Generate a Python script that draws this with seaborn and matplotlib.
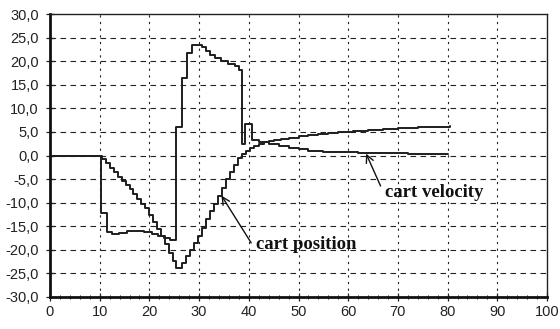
import matplotlib
matplotlib.use("Agg")
import matplotlib.pyplot as plt
import seaborn as sns
import pandas as pd
from matplotlib.ticker import MultipleLocator

# ---- data (step series, value holds until next x) ----
pos_x = [0, 10.4, 11.2, 12.0, 12.8, 13.6, 14.4, 15.2, 16.0, 16.8, 17.6, 18.4, 19.2,
         20.0, 20.8, 21.6, 22.4, 23.2, 24.0, 24.8, 25.4, 26.6, 27.4, 28.2, 29.0,
         29.8, 30.6, 31.4, 32.2, 33.0, 33.8, 34.6, 35.4, 36.2, 37.0, 37.8, 38.6,
         39.4, 40.2, 41.0, 42.0, 43.0, 44.0, 45.0, 46.5, 48.0, 50.0, 52.0, 54.0,
         56.0, 58.0, 61.0, 64.0, 67.0, 70.0, 74.0, 77.0, 80.5]
pos_y = [0, -0.8, -1.6, -2.6, -3.6, -4.6, -5.4, -6.2, -7.2, -8.2, -9.2, -10.2, -11.2,
         -12.6, -14.0, -15.5, -17.0, -18.8, -20.6, -22.4, -23.8, -22.7, -21.3, -20.0, -18.5,
         -17.0, -15.3, -13.5, -11.7, -10.2, -8.6, -6.8, -5.0, -3.5, -2.0, -0.6, 0.4,
         1.0, 1.6, 2.1, 2.5, 2.8, 3.0, 3.2, 3.5, 3.8, 4.1, 4.4, 4.6,
         4.8, 5.0, 5.2, 5.4, 5.6, 5.8, 6.0, 6.1, 6.2]

vel_x = [0, 10.2, 11.4, 12.4, 13.8, 15.4, 19.0, 20.6, 21.8, 23.0, 24.2, 25.4, 26.5,
         27.6, 28.6, 30.6, 31.4, 32.2, 33.2, 34.4, 35.8, 37.2, 38.0, 38.7, 39.3,
         40.7, 42.0, 44.0, 46.0, 48.0, 50.0, 52.0, 55.0, 58.0, 62.0, 67.0, 72.0, 80.0]
vel_y = [0, -12.1, -16.2, -16.7, -16.4, -16.0, -16.2, -16.6, -17.0, -17.4, -17.9, 6.0, 16.5,
         21.8, 23.5, 23.0, 22.2, 21.4, 20.6, 20.0, 19.5, 18.9, 18.2, 2.5, 6.7,
         3.3, 2.8, 2.4, 2.0, 1.6, 1.3, 1.0, 0.8, 0.7, 0.6, 0.5, 0.4, 0.4]

x_ticks = [0, 10, 20, 30, 40, 50, 60, 70, 80, 90, 100]
y_ticks = [-30, -25, -20, -15, -10, -5, 0, 5, 10, 15, 20, 25, 30]
y_tick_labels = ["-30,0", "-25,0", "-20,0", "-15,0", "-10,0", "-5,0", "0,0",
                 "5,0", "10,0", "15,0", "20,0", "25,0", "30,0"]

labels = ["cart velocity", "cart position"]

# ---- figure ----
sns.set_theme(style="white")
plt.rcParams["font.family"] = ["Liberation Sans", "DejaVu Sans"]

fig = plt.figure(figsize=(5.6, 3.29), dpi=100)
ax = fig.add_axes([50 / 560, 1 - 297 / 329, 497 / 560, 283 / 329])

line_color = "#1e1e1e"
df_pos = pd.DataFrame({"t": pos_x, "v": pos_y})
df_vel = pd.DataFrame({"t": vel_x, "v": vel_y})
sns.lineplot(data=df_vel, x="t", y="v", ax=ax, color=line_color, lw=1.4,
             drawstyle="steps-post", estimator=None, sort=False)
sns.lineplot(data=df_pos, x="t", y="v", ax=ax, color=line_color, lw=1.4,
             drawstyle="steps-post", estimator=None, sort=False)

ax.set_xlim(0, 100)
ax.set_ylim(-30, 30)
ax.set_xticks(x_ticks)
ax.set_xticklabels([str(v) for v in x_ticks])
ax.set_yticks(y_ticks)
ax.set_yticklabels(y_tick_labels)
ax.xaxis.set_minor_locator(MultipleLocator(2))
ax.set_xlabel("")
ax.set_ylabel("")

# grid
for yv in y_ticks[1:-1]:
    ax.axhline(yv, color="#222222", lw=0.8, ls=(0, (5, 4)), zorder=0)
for xv in x_ticks[1:-1]:
    ax.axvline(xv, color="#222222", lw=0.8, ls=(0, (2, 4)), zorder=0)

# spines
for s in ["top", "right"]:
    ax.spines[s].set_linewidth(1.0)
    ax.spines[s].set_color("#222222")
for s in ["left", "bottom"]:
    ax.spines[s].set_linewidth(2.0)
    ax.spines[s].set_color("#111111")

ax.tick_params(axis="y", which="major", direction="inout", length=6, width=0.9,
               color="#222222", left=True, labelsize=10.5, pad=5, labelcolor="#222222")
ax.tick_params(axis="x", which="major", direction="inout", length=6, width=0.9,
               color="#222222", bottom=True, labelsize=10.5, pad=3, labelcolor="#222222")
ax.tick_params(axis="x", which="minor", direction="inout", length=3, width=0.7,
               color="#222222", bottom=True)

# annotations
ax.annotate(labels[0], xy=(63.6, 0.4), xytext=(67.5, -7.9),
            fontsize=13.5, fontweight="bold", family=["Liberation Serif", "DejaVu Serif"],
            color="#111111", va="center", ha="left",
            arrowprops=dict(arrowstyle="->", color="#111111", lw=1.0,
                            shrinkA=0, shrinkB=0, relpos=(-0.05, 0.9)))
ax.annotate(labels[1], xy=(34.5, -8.5), xytext=(41.5, -18.9),
            fontsize=13.5, fontweight="bold", family=["Liberation Serif", "DejaVu Serif"],
            color="#111111", va="center", ha="left",
            arrowprops=dict(arrowstyle="->", color="#111111", lw=1.0,
                            shrinkA=0, shrinkB=0, relpos=(-0.05, 0.6)))

fig.savefig("out.png", dpi=100, facecolor="white")
